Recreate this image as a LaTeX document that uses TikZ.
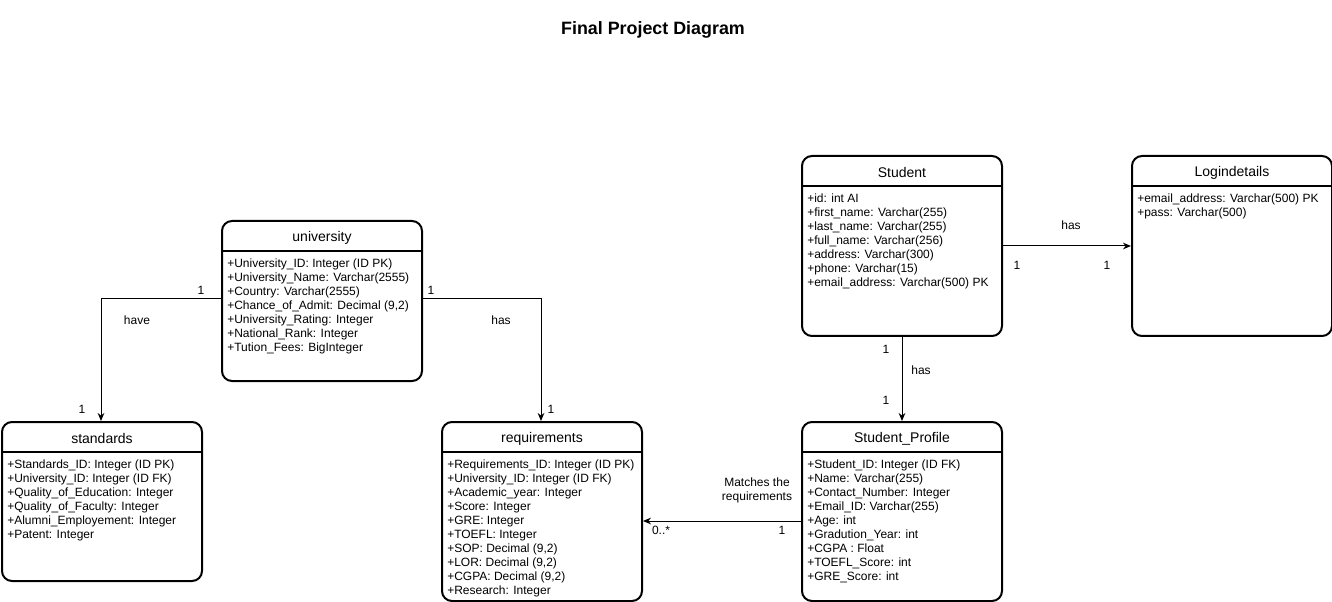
\documentclass[tikz,border=0pt]{standalone}
\usepackage{fontspec}
\setmainfont{Liberation Sans}
\usetikzlibrary{arrows.meta,calc}
\tikzset{
  x=0.75pt,y=-0.75pt,
  ebox/.style={draw,line width=1.5pt,rounded corners=7.5pt,minimum width=150pt,anchor=north west,inner sep=0pt},
  hdr/.style={font=\fontsize{10.5}{12}\selectfont,anchor=center},
  attrs/.style={font=\fontsize{9}{10.5}\selectfont,align=left,anchor=north west,inner sep=0pt},
  conn/.style={line width=0.75pt,-{Stealth[length=6pt,width=5pt]}},
  lbl/.style={font=\fontsize{9}{10.5}\selectfont,inner sep=0pt}
}
\newcommand{\entity}[6]{% name, x, y, h, title, attrs
  \node[ebox,minimum height=#4*0.75pt] (#1) at (#2,#3) {};
  \draw[line width=1.5pt] ($(#1.north west)+(0,31)$) coordinate (#1hl) -- ($(#1.north east)+(0,31)$) coordinate (#1hr);
  \node[hdr] (#1t) at ($(#1.north)+(0,17.5)$) {#5};
  \node[attrs] (#1a) at ($(#1.north west)+(6,39)$) {#6};
}
\begin{document}
\begin{tikzpicture}
\useasboundingbox (0,0) rectangle (1332,602);
\node[font=\bfseries\fontsize{13.4}{15}\selectfont] (title) at (653,30) {Final Project Diagram};

\entity{univ}{221}{220}{160}{university}{+University\_ID: Integer (ID PK)\\+University\_Name: Varchar(2555)\\+Country: Varchar(2555)\\+Chance\_of\_Admit: Decimal (9,2)\\+University\_Rating: Integer\\+National\_Rank: Integer\\+Tution\_Fees: BigInteger}
\entity{std}{1}{421}{159}{standards}{+Standards\_ID: Integer (ID PK)\\+University\_ID: Integer (ID FK)\\+Quality\_of\_Education: Integer\\+Quality\_of\_Faculty: Integer\\+Alumni\_Employement: Integer\\+Patent: Integer}
\entity{req}{441}{421}{179}{requirements}{+Requirements\_ID: Integer (ID PK)\\+University\_ID: Integer (ID FK)\\+Academic\_year: Integer\\+Score: Integer\\+GRE: Integer\\+TOEFL: Integer\\+SOP: Decimal (9,2)\\+LOR: Decimal (9,2)\\+CGPA: Decimal (9,2)\\+Research: Integer}
\entity{prof}{801}{421}{179}{Student\_Profile}{+Student\_ID: Integer (ID FK)\\+Name: Varchar(255)\\+Contact\_Number: Integer\\+Email\_ID: Varchar(255)\\+Age: int\\+Gradution\_Year: int\\+CGPA : Float\\+TOEFL\_Score: int\\+GRE\_Score: int}
\entity{stu}{801}{155}{180}{Student}{+id: int AI\\+first\_name: Varchar(255)\\+last\_name: Varchar(255)\\+full\_name: Varchar(256)\\+address: Varchar(300)\\+phone: Varchar(15)\\+email\_address: Varchar(500) PK}
\entity{login}{1131}{155}{180}{Logindetails}{+email\_address: Varchar(500) PK\\+pass: Varchar(500)}

% connectors
\draw[conn] (univ.west |- 0,299) -| (std.north -| 101,0);
\draw[conn] (univ.east |- 0,299) -| (req.north -| 541,0);
\draw[conn] (stu.east |- 0,246) -- (login.west |- 0,246);
\draw[conn] (stu.south) -- (prof.north);
\draw[conn] (prof.west |- 0,521) -- (req.east |- 0,521);

% labels
\node[lbl] (l1) at (201,290) {1};
\node[lbl] (l2) at (137,320) {have};
\node[lbl] (l3) at (82,409) {1};
\node[lbl] (l4) at (431,290) {1};
\node[lbl] (l5) at (501,320) {has};
\node[lbl] (l6) at (551,409) {1};
\node[lbl] (l7) at (1071,225) {has};
\node[lbl] (l8) at (1017,265) {1};
\node[lbl] (l9) at (1107,265) {1};
\node[lbl] (l10) at (886,349) {1};
\node[lbl] (l11) at (921,370) {has};
\node[lbl] (l12) at (886,400) {1};
\node[lbl,align=center] (l13) at (757,490) {Matches the\\requirements};
\node[lbl] (l14) at (661,530) {0..*};
\node[lbl] (l15) at (782,530) {1};
\end{tikzpicture}
\end{document}
